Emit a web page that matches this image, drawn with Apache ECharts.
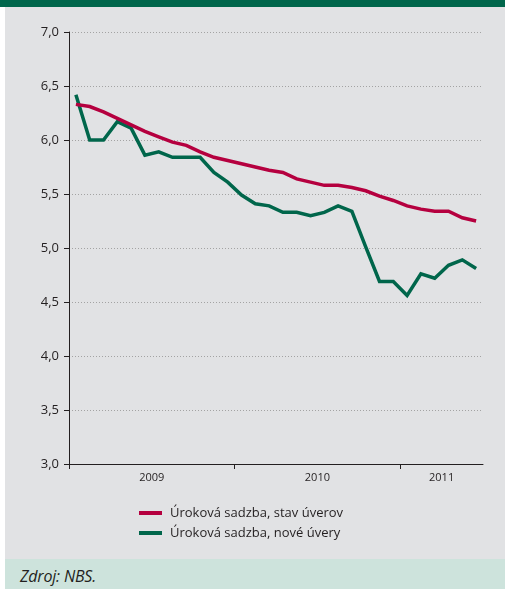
<!DOCTYPE html>
<html>
<head>
<meta charset="utf-8">
<script src="https://cdn.jsdelivr.net/npm/echarts@6/dist/echarts.min.js"></script>
<style>
  html, body { margin: 0; padding: 0; background: #ffffff; }
  #wrap { position: relative; width: 505px; height: 589px; overflow: hidden; }
  #head { position: absolute; left: 0; top: 0; width: 505px; height: 7px; background: #00664b; }
  #panel { position: absolute; left: 5px; top: 7px; width: 500px; height: 552px; background: #e1e2e4; }
  #foot { position: absolute; left: 5px; top: 559px; width: 500px; height: 30px; background: #cde3dc;
          font-family: "Open Sans", sans-serif; font-style: italic; font-size: 16px; color: #231f20; }
  #foot span { position: absolute; left: 15px; top: 6px; white-space: nowrap; letter-spacing: -0.2px; }
  #chart { position: absolute; left: 0; top: 0; width: 505px; height: 589px; }
</style>
</head>
<body>
<div id="wrap">
  <div id="head"></div>
  <div id="panel"></div>
  <div id="foot"><span>Zdroj: NBS.</span></div>
  <div id="chart"></div>
</div>
<script>
// Months: January 2009 .. June 2011
const months = [
  '2009-01','2009-02','2009-03','2009-04','2009-05','2009-06','2009-07','2009-08','2009-09','2009-10','2009-11','2009-12',
  '2010-01','2010-02','2010-03','2010-04','2010-05','2010-06','2010-07','2010-08','2010-09','2010-10','2010-11','2010-12',
  '2011-01','2011-02','2011-03','2011-04','2011-05','2011-06'
];
const seriesNames = ['Úroková sadzba, stav úverov', 'Úroková sadzba, nové úvery'];
const stavUverov = [6.33, 6.31, 6.26, 6.20, 6.14, 6.08, 6.03, 5.98, 5.95, 5.89, 5.84, 5.81,
                    5.78, 5.75, 5.72, 5.70, 5.64, 5.61, 5.58, 5.58, 5.56, 5.53, 5.48, 5.44,
                    5.39, 5.36, 5.34, 5.34, 5.28, 5.25];
const noveUvery = [6.42, 6.00, 6.00, 6.17, 6.11, 5.86, 5.89, 5.84, 5.84, 5.84, 5.70, 5.61,
                   5.49, 5.41, 5.39, 5.33, 5.33, 5.30, 5.33, 5.39, 5.34, 5.01, 4.69, 4.69,
                   4.56, 4.76, 4.72, 4.84, 4.89, 4.81];
const yTicks = { min: 3.0, max: 7.0, step: 0.5 };

// year groups derived from the month list
const yearNames = [];
const yearCounts = [];
months.forEach(m => {
  const y = m.slice(0, 4);
  const k = yearNames.indexOf(y);
  if (k < 0) { yearNames.push(y); yearCounts.push(1); } else { yearCounts[k]++; }
});
const yearStarts = [];
const yearMids = [];
let acc = 0;
yearCounts.forEach(c => { yearStarts.push(acc); yearMids.push(acc + c / 2); acc += c; });

const FONT = '"Open Sans", sans-serif';
const INK = '#231f20';
const RED = '#b5003f';
const GREEN = '#00664b';

const chart = echarts.init(document.getElementById('chart'), null, { renderer: 'canvas' });
chart.setOption({
  backgroundColor: 'transparent',
  animation: false,
  grid: { left: 69, right: 22, top: 32, bottom: 125, containLabel: false },
  legend: {
    orient: 'vertical', left: 139, top: 506, itemGap: 6, padding: 0,
    icon: 'rect', itemWidth: 23, itemHeight: 4,
    data: seriesNames,
    textStyle: { fontFamily: FONT, fontSize: 13, color: INK, lineHeight: 14, padding: [0, 0, 0, 3] }
  },
  xAxis: [
    {
      type: 'category', data: months, boundaryGap: true,
      axisLine: { show: true, lineStyle: { color: INK, width: 1 } },
      axisTick: { show: false }, axisLabel: { show: false }, splitLine: { show: false }
    },
    {
      type: 'value', min: 0, max: months.length, position: 'bottom',
      axisLine: { show: false },
      axisTick: { show: true, customValues: yearStarts, length: 5, lineStyle: { color: INK, width: 1 } },
      axisLabel: {
        show: true, customValues: yearMids, margin: 8,
        fontFamily: FONT, fontSize: 11, color: INK,
        formatter: v => { const k = yearMids.indexOf(v); return k >= 0 ? yearNames[k] : ''; }
      },
      splitLine: { show: false }
    }
  ],
  yAxis: {
    type: 'value', min: yTicks.min, max: yTicks.max, interval: yTicks.step,
    axisLine: { show: true, lineStyle: { color: INK, width: 1 } },
    axisTick: { show: true, inside: false, length: 5, lineStyle: { color: INK, width: 1 } },
    axisLabel: {
      margin: 10, fontFamily: FONT, fontSize: 13, color: INK,
      formatter: v => v.toFixed(1).replace('.', ',')
    },
    splitLine: { show: true, lineStyle: { color: '#a3a3a3', width: 1, type: [1, 2] } }
  },
  series: [
    {
      name: seriesNames[0], type: 'line', data: stavUverov, xAxisIndex: 0, z: 4,
      symbol: 'none', color: RED, lineStyle: { color: RED, width: 3.5, join: 'miter' }
    },
    {
      name: seriesNames[1], type: 'line', data: noveUvery, xAxisIndex: 0, z: 3,
      symbol: 'none', color: GREEN, lineStyle: { color: GREEN, width: 3.5, join: 'miter' }
    }
  ]
});
</script>
</body>
</html>
